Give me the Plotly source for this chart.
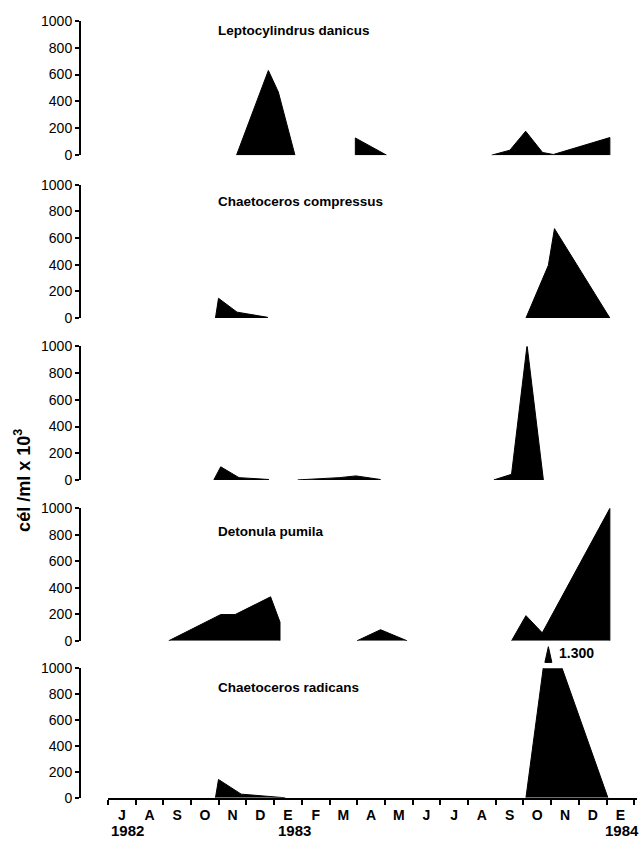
import plotly.graph_objects as go

# ---------------- data (x = months since 1 July 1982) ----------------
months = ["J", "A", "S", "O", "N", "D", "E", "F", "M", "A", "M", "J",
          "J", "A", "S", "O", "N", "D", "E"]
year_labels = ["1982", "1983", "1984"]
year_month_index = [0, 6, 18]

species = ["Leptocylindrus danicus", "Chaetoceros compressus",
           "Nitzschia pseudoseriata", "Detonula pumila", "Chaetoceros radicans"]

leptocylindrus_x = [[4.64, 5.79, 6.15, 6.75],
                    [8.93, 8.93, 10.06],
                    [13.85, 14.51, 15.08, 15.69, 16.08, 18.12, 18.12]]
leptocylindrus_y = [[0, 630, 470, 0],
                    [0, 128, 0],
                    [0, 37, 178, 20, 5, 131, 0]]

compressus_x = [[3.88, 3.99, 4.66, 5.77],
                [15.09, 15.90, 16.12, 18.12]]
compressus_y = [[0, 148, 44, 5],
                [0, 395, 670, 0]]

nitzschia_x = [[3.82, 4.07, 4.73, 5.81],
               [6.85, 7.32, 8.36, 8.95, 9.84],
               [13.93, 14.57, 15.13, 15.72]]
nitzschia_y = [[0, 98, 17, 3],
               [0, 5, 17, 30, 3],
               [0, 42, 1010, 0]]

detonula_x = [[2.19, 4.07, 4.59, 5.87, 6.21, 6.21],
              [8.99, 9.84, 10.80],
              [14.57, 15.09, 15.68, 18.12, 18.12]]
detonula_y = [[0, 198, 198, 332, 141, 0],
              [0, 84, 0],
              [0, 190, 60, 1000, 0]]

radicans_x = [[3.88, 3.99, 4.81, 5.96, 6.40],
              [15.09, 15.90, 18.05]]
radicans_y = [[0, 141, 28, 6, 0],
              [0, 1300, 0]]

y_ticks = [0, 200, 400, 600, 800, 1000]

# ---------------- layout constants ----------------
W, H = 641, 846
panel_px = [(13, 150), (180, 316), (345, 481), (510, 645), (673, 805)]
title_values = [925, 877, 1020, 822, 849]
title_x = 3.9
x_range = [0, 19.1]
x_dom = [108 / W, 637 / W]
yaxis_pos = 80 / W
FONT = "Liberation Sans, Arial, sans-serif"

series_x = [leptocylindrus_x, compressus_x, nitzschia_x, detonula_x, radicans_x]
series_y = [leptocylindrus_y, compressus_y, nitzschia_y, detonula_y, radicans_y]

fig = go.Figure()
for i, (xs, ys) in enumerate(zip(series_x, series_y), start=1):
    xa = "x" if i == 1 else f"x{i}"
    ya = "y" if i == 1 else f"y{i}"
    for sx, sy in zip(xs, ys):
        fig.add_trace(go.Scatter(
            x=sx, y=sy, mode="lines", fill="tozeroy",
            fillcolor="black", line=dict(color="black", width=1),
            xaxis=xa, yaxis=ya, showlegend=False, hoverinfo="skip"))

layout = dict(
    width=W, height=H,
    margin=dict(l=0, r=0, t=0, b=0),
    paper_bgcolor="white", plot_bgcolor="white",
    showlegend=False,
    font=dict(family=FONT, color="black"),
)

annotations = []
shapes = []
for i in range(1, 6):
    top, bot = panel_px[i - 1]
    sfx = "" if i == 1 else str(i)
    layout[f"yaxis{sfx}"] = dict(
        domain=[1 - bot / H, 1 - top / H], range=[0, 1000],
        tickmode="array", tickvals=y_ticks,
        showline=True, linewidth=2, linecolor="black",
        ticks="outside", ticklen=4, tickwidth=1.5, tickcolor="black",
        showgrid=False, zeroline=False, anchor="free", position=yaxis_pos,
        tickfont=dict(family=FONT, size=14, color="black"),
        fixedrange=True,
    )
    xa = dict(domain=x_dom, range=x_range, anchor=f"y{sfx}",
              showgrid=False, zeroline=False, fixedrange=True)
    if i < 5:
        xa["visible"] = False
    else:
        xa.update(
            showline=True, linewidth=1.5, linecolor="black",
            tickmode="array",
            tickvals=[k + 0.5 for k in range(len(months))],
            ticktext=months, ticks="",
            tickfont=dict(family=FONT, size=14, color="black", weight="bold"),
            ticklabelstandoff=4,
            minor=dict(tickmode="array", tickvals=list(range(len(months) + 1)),
                       ticks="outside", ticklen=5, tickwidth=1.5,
                       tickcolor="black", showgrid=False),
        )
    layout[f"xaxis{sfx}"] = xa

    annotations.append(dict(
        text=species[i - 1], xref=f"x{sfx}", yref=f"y{sfx}",
        x=title_x, y=title_values[i - 1], xanchor="left", yanchor="middle",
        showarrow=False,
        font=dict(family=FONT, size=13.5, color="black", weight="bold")))

# year labels
year_shift = [6, 6, 2]
for lab, idx, sh in zip(year_labels, year_month_index, year_shift):
    annotations.append(dict(
        text=lab, xref="x5", yref="paper", x=idx + 0.5, y=1 - 838 / H,
        xshift=sh, xanchor="center", yanchor="middle", showarrow=False,
        font=dict(family=FONT, size=15, color="black", weight="bold")))

# off-scale peak marker for Chaetoceros radicans (value beyond axis top)
peak_val = max(radicans_y[1])
peak_x = radicans_x[1][radicans_y[1].index(peak_val)]
peak_paper_x = x_dom[0] + (peak_x - x_range[0]) / (x_range[1] - x_range[0]) * (x_dom[1] - x_dom[0])
tri_half_w = 3.5 / W
tri_top, tri_bot = 1 - 651 / H, 1 - 667 / H
shapes.append(dict(
    type="path", xref="paper", yref="paper",
    path=(f"M {peak_paper_x - tri_half_w} {tri_bot} "
          f"L {peak_paper_x + tri_half_w} {tri_bot} "
          f"L {peak_paper_x} {tri_top} Z"),
    fillcolor="black", line=dict(color="black", width=1)))
annotations.append(dict(
    text=f"{peak_val:,}".replace(",", "."), xref="paper", yref="paper",
    x=peak_paper_x + 9 / W, y=1 - 657 / H, xanchor="left", yanchor="middle",
    showarrow=False,
    font=dict(family=FONT, size=14, color="black", weight="bold")))

# y-axis title
annotations.append(dict(
    text="cél /ml x 10<sup>3</sup>", xref="paper", yref="paper",
    x=23 / W, y=1 - 482 / H, textangle=-90, xanchor="center",
    yanchor="middle", showarrow=False,
    font=dict(family=FONT, size=18, color="black", weight="bold")))

layout["annotations"] = annotations
layout["shapes"] = shapes
fig.update_layout(**layout)
fig.write_html("out.html")
